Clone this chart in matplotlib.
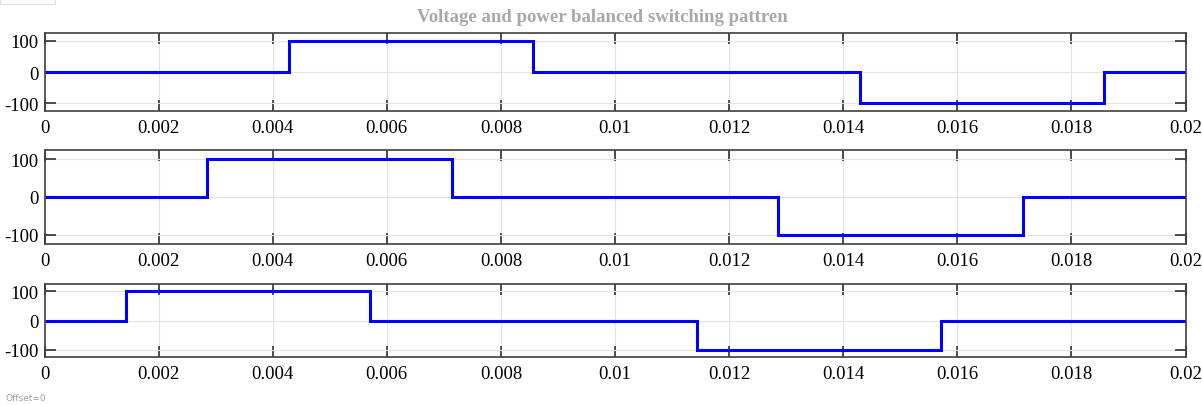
import matplotlib
matplotlib.use('Agg')
import matplotlib.pyplot as plt
from matplotlib.patches import Rectangle

# Switching instants (s) and levels for each of the three legs
t_end = 0.02
edges_a = [0.0, 0.004286, 0.008571, 0.014286, 0.018571, 0.02]
levels_a = [0, 100, 0, -100, 0]
edges_b = [0.0, 0.002857, 0.007143, 0.012857, 0.017143, 0.02]
levels_b = [0, 100, 0, -100, 0]
edges_c = [0.0, 0.001429, 0.005714, 0.011429, 0.015714, 0.02]
levels_c = [0, 100, 0, -100, 0]

x_ticks = [0, 0.002, 0.004, 0.006, 0.008, 0.01, 0.012, 0.014, 0.016, 0.018, 0.02]
x_labels = ['0', '0.002', '0.004', '0.006', '0.008', '0.01', '0.012', '0.014', '0.016', '0.018', '0.02']
y_ticks = [-100, 0, 100]

plt.rcParams['font.family'] = ['Liberation Serif', 'DejaVu Serif']
plt.rcParams['axes.unicode_minus'] = False

fig = plt.figure(figsize=(12.02, 4.06), dpi=100)
W, H = 1202, 406
# panel boxes in pixels: (top, bottom)
boxes = [(34, 112), (151, 245), (285, 358)]
left, right = 44.5, 1185.5

series = [(edges_a, levels_a), (edges_b, levels_b), (edges_c, levels_c)]
for (top, bot), (edges, levels) in zip(boxes, series):
    ax = fig.add_axes([left / W, 1 - bot / H, (right - left) / W, (bot - top) / H])
    ax.stairs(levels, edges, color='#0000ff', lw=2.2, baseline=None)
    ax.set_xlim(0, t_end)
    ax.set_ylim(-125, 125)
    ax.set_xticks(x_ticks)
    ax.set_xticklabels(x_labels)
    ax.set_yticks(y_ticks)
    ax.grid(True, color='#e3e3e3', lw=0.8)
    ax.set_axisbelow(True)
    ax.tick_params(direction='in', top=True, right=True, length=8, width=1.2,
                   color='#303030', labelsize=13.5, pad=6)
    ax.tick_params(axis='y', pad=4)
    for s in ax.spines.values():
        s.set_color('#404040')
        s.set_linewidth(1.2)

# faint frame left over in the top-left corner
fig.patches.append(Rectangle((0, 1 - 5 / H), 55 / W, 5 / H, transform=fig.transFigure,
                             fill=False, ec='#e0e0e0', lw=0.8))

fig.text(602 / W, 1 - 17 / H, 'Voltage and power balanced switching pattren',
         ha='center', va='center', fontsize=13.5, fontweight='bold', color='#a8a8a8')
fig.text(6 / W, 1 - 399 / H, 'Offset=0', ha='left', va='center', fontsize=6.5,
         color='#a0a0a0', family='DejaVu Sans')

fig.savefig('out.png', dpi=100, facecolor='white')
